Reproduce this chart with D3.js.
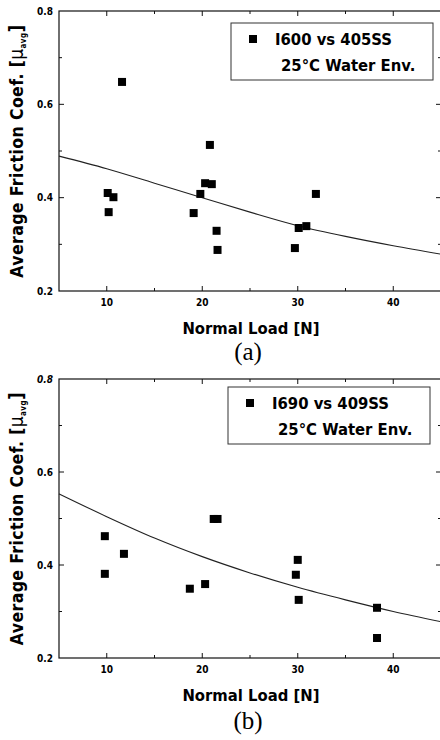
<!DOCTYPE html>
<html>
<head>
<meta charset="utf-8">
<script src="https://cdn.jsdelivr.net/npm/d3@7"></script>
<style>
  body { margin: 0; background: #fff; }
  svg { display: block; }
</style>
</head>
<body>
<svg id="chart"></svg>
<script>
// data
const xTicks = [10, 20, 30, 40];
const yTicks = [0.2, 0.4, 0.6, 0.8];
const xMinor = [15, 25, 35];
const yMinor = [0.3, 0.5, 0.7];

// (a) I600 vs 405SS
const loadA = [11.6, 20.8, 20.3, 21.0, 31.9, 10.1, 10.7, 10.2, 19.8, 19.1, 21.5, 21.6, 29.7, 30.1, 30.9];
const frictionA = [0.648, 0.513, 0.431, 0.429, 0.408, 0.41, 0.401, 0.369, 0.408, 0.367, 0.329, 0.288, 0.292, 0.335, 0.339];
const fitLoadA = [5, 10, 15, 20, 25, 30, 35, 40, 45];
const fitA = [0.489, 0.462, 0.431, 0.400, 0.369, 0.340, 0.317, 0.297, 0.279];

// (b) I690 vs 409SS
const loadB = [9.8, 11.8, 21.2, 21.6, 9.8, 18.7, 20.3, 30.0, 29.8, 30.1, 38.3, 38.3];
const frictionB = [0.462, 0.424, 0.499, 0.499, 0.381, 0.349, 0.359, 0.411, 0.379, 0.325, 0.308, 0.243];
const fitLoadB = [5, 10, 15, 20, 25, 30, 35, 40, 45];
const fitB = [0.553, 0.504, 0.458, 0.418, 0.383, 0.352, 0.325, 0.300, 0.278];

const W = 440, H = 740;
const svg = d3.select('#chart').attr('width', W).attr('height', H);
svg.append('rect').attr('width', W).attr('height', H).attr('fill', '#fff');

const boldFont = "'DejaVu Sans Condensed', 'DejaVu Sans', sans-serif";

function drawPanel(p) {
  const x = d3.scaleLinear().domain([5, 45]).range([59, 441]);
  const y = d3.scaleLinear().domain([0.2, 0.8]).range([p.bottom, p.top]);
  const g = svg.append('g');

  // frame
  g.append('rect')
    .attr('x', x(5)).attr('y', y(0.8))
    .attr('width', x(45) - x(5)).attr('height', y(0.2) - y(0.8))
    .attr('fill', 'none').attr('stroke', '#111').attr('stroke-width', 1.2);

  // inward ticks on all four sides
  const tick = (vals, len) => {
    vals.forEach(v => {
      g.append('line').attr('x1', x(v)).attr('x2', x(v)).attr('y1', y(0.2)).attr('y2', y(0.2) - len);
      g.append('line').attr('x1', x(v)).attr('x2', x(v)).attr('y1', y(0.8)).attr('y2', y(0.8) + len);
    });
  };
  const ytick = (vals, len) => {
    vals.forEach(v => {
      g.append('line').attr('y1', y(v)).attr('y2', y(v)).attr('x1', x(5)).attr('x2', x(5) + len);
      g.append('line').attr('y1', y(v)).attr('y2', y(v)).attr('x1', x(45)).attr('x2', x(45) - len);
    });
  };
  tick(xTicks, 5); tick(xMinor, 3);
  ytick(yTicks.slice(1, 3), 5); ytick(yMinor, 3);
  g.selectAll('line').attr('stroke', '#111').attr('stroke-width', 1);

  // tick labels
  g.selectAll('.xl').data(xTicks).join('text')
    .attr('x', d => x(d)).attr('y', y(0.2) + 15)
    .attr('text-anchor', 'middle')
    .style('font-family', boldFont).style('font-weight', 'bold').style('font-size', '10px')
    .text(d => d);
  g.selectAll('.yl').data(yTicks).join('text')
    .attr('x', x(5) - 6).attr('y', d => y(d) + 3.5)
    .attr('text-anchor', 'end')
    .style('font-family', boldFont).style('font-weight', 'bold').style('font-size', '10px')
    .style('font-style', d => (p.italicTop && d === 0.8) ? 'italic' : 'normal')
    .text(d => d.toFixed(1));

  // fitted curve
  const line = d3.line().x(d => x(d[0])).y(d => y(d[1])).curve(d3.curveMonotoneX);
  g.append('path')
    .datum(d3.zip(p.fitLoad, p.fit))
    .attr('d', line)
    .attr('fill', 'none').attr('stroke', '#222').attr('stroke-width', 1.1);

  // measured points
  g.selectAll('.pt').data(d3.zip(p.load, p.friction)).join('rect')
    .attr('x', d => x(d[0]) - 4).attr('y', d => y(d[1]) - 4)
    .attr('width', 8).attr('height', 8)
    .attr('fill', '#000');

  // legend
  const lg = g.append('g');
  lg.append('rect')
    .attr('x', p.legend[0]).attr('y', p.legend[1])
    .attr('width', p.legend[2]).attr('height', p.legend[3])
    .attr('fill', '#fff').attr('stroke', '#333').attr('stroke-width', 1);
  lg.append('rect')
    .attr('x', p.legend[0] + 18).attr('y', p.legend[1] + 12)
    .attr('width', 8).attr('height', 8).attr('fill', '#000');
  lg.append('text')
    .attr('x', p.legend[0] + 44).attr('y', p.legend[1] + 22)
    .style('font-family', boldFont).style('font-weight', 'bold').style('font-size', '16.5px')
    .text(p.name);
  lg.append('text')
    .attr('x', p.legend[0] + 50).attr('y', p.legend[1] + 48)
    .style('font-family', boldFont).style('font-weight', 'bold').style('font-size', '16.5px')
    .text('25°C Water Env.');

  // axis titles
  g.append('text')
    .attr('x', 251).attr('y', y(0.2) + 43)
    .attr('text-anchor', 'middle')
    .style('font-family', boldFont).style('font-weight', 'bold').style('font-size', '16.5px')
    .text('Normal Load [N]');

  const yt = g.append('text')
    .attr('transform', `translate(23,${(y(0.2) + y(0.8)) / 2}) rotate(-90)`)
    .attr('text-anchor', 'middle')
    .style('font-family', boldFont).style('font-weight', 'bold').style('font-size', '17.5px')
    .style('letter-spacing', '0.4px');
  yt.append('tspan').text('Average Friction Coef. [');
  yt.append('tspan').style('font-weight', 'normal').style('font-size', '19px').text('μ');
  yt.append('tspan').attr('dy', 3).style('font-size', '8px').text('avg');
  yt.append('tspan').attr('dy', -3).style('font-size', '19px').text(']');

  // panel letter
  g.append('text')
    .attr('x', 248).attr('y', p.letterY)
    .attr('text-anchor', 'middle')
    .style('font-family', "'Liberation Serif', serif").style('font-size', '25px')
    .text(p.letter);
}

drawPanel({
  top: 11, bottom: 291,
  load: loadA, friction: frictionA, fitLoad: fitLoadA, fit: fitA,
  name: 'I600 vs 405SS', legend: [231, 23, 202, 57],
  letter: '(a)', letterY: 360
});
drawPanel({
  top: 379, bottom: 658,
  load: loadB, friction: frictionB, fitLoad: fitLoadB, fit: fitB,
  name: 'I690 vs 409SS', legend: [228, 387, 202, 57],
  letter: '(b)', letterY: 729, italicTop: true
});
</script>
</body>
</html>
